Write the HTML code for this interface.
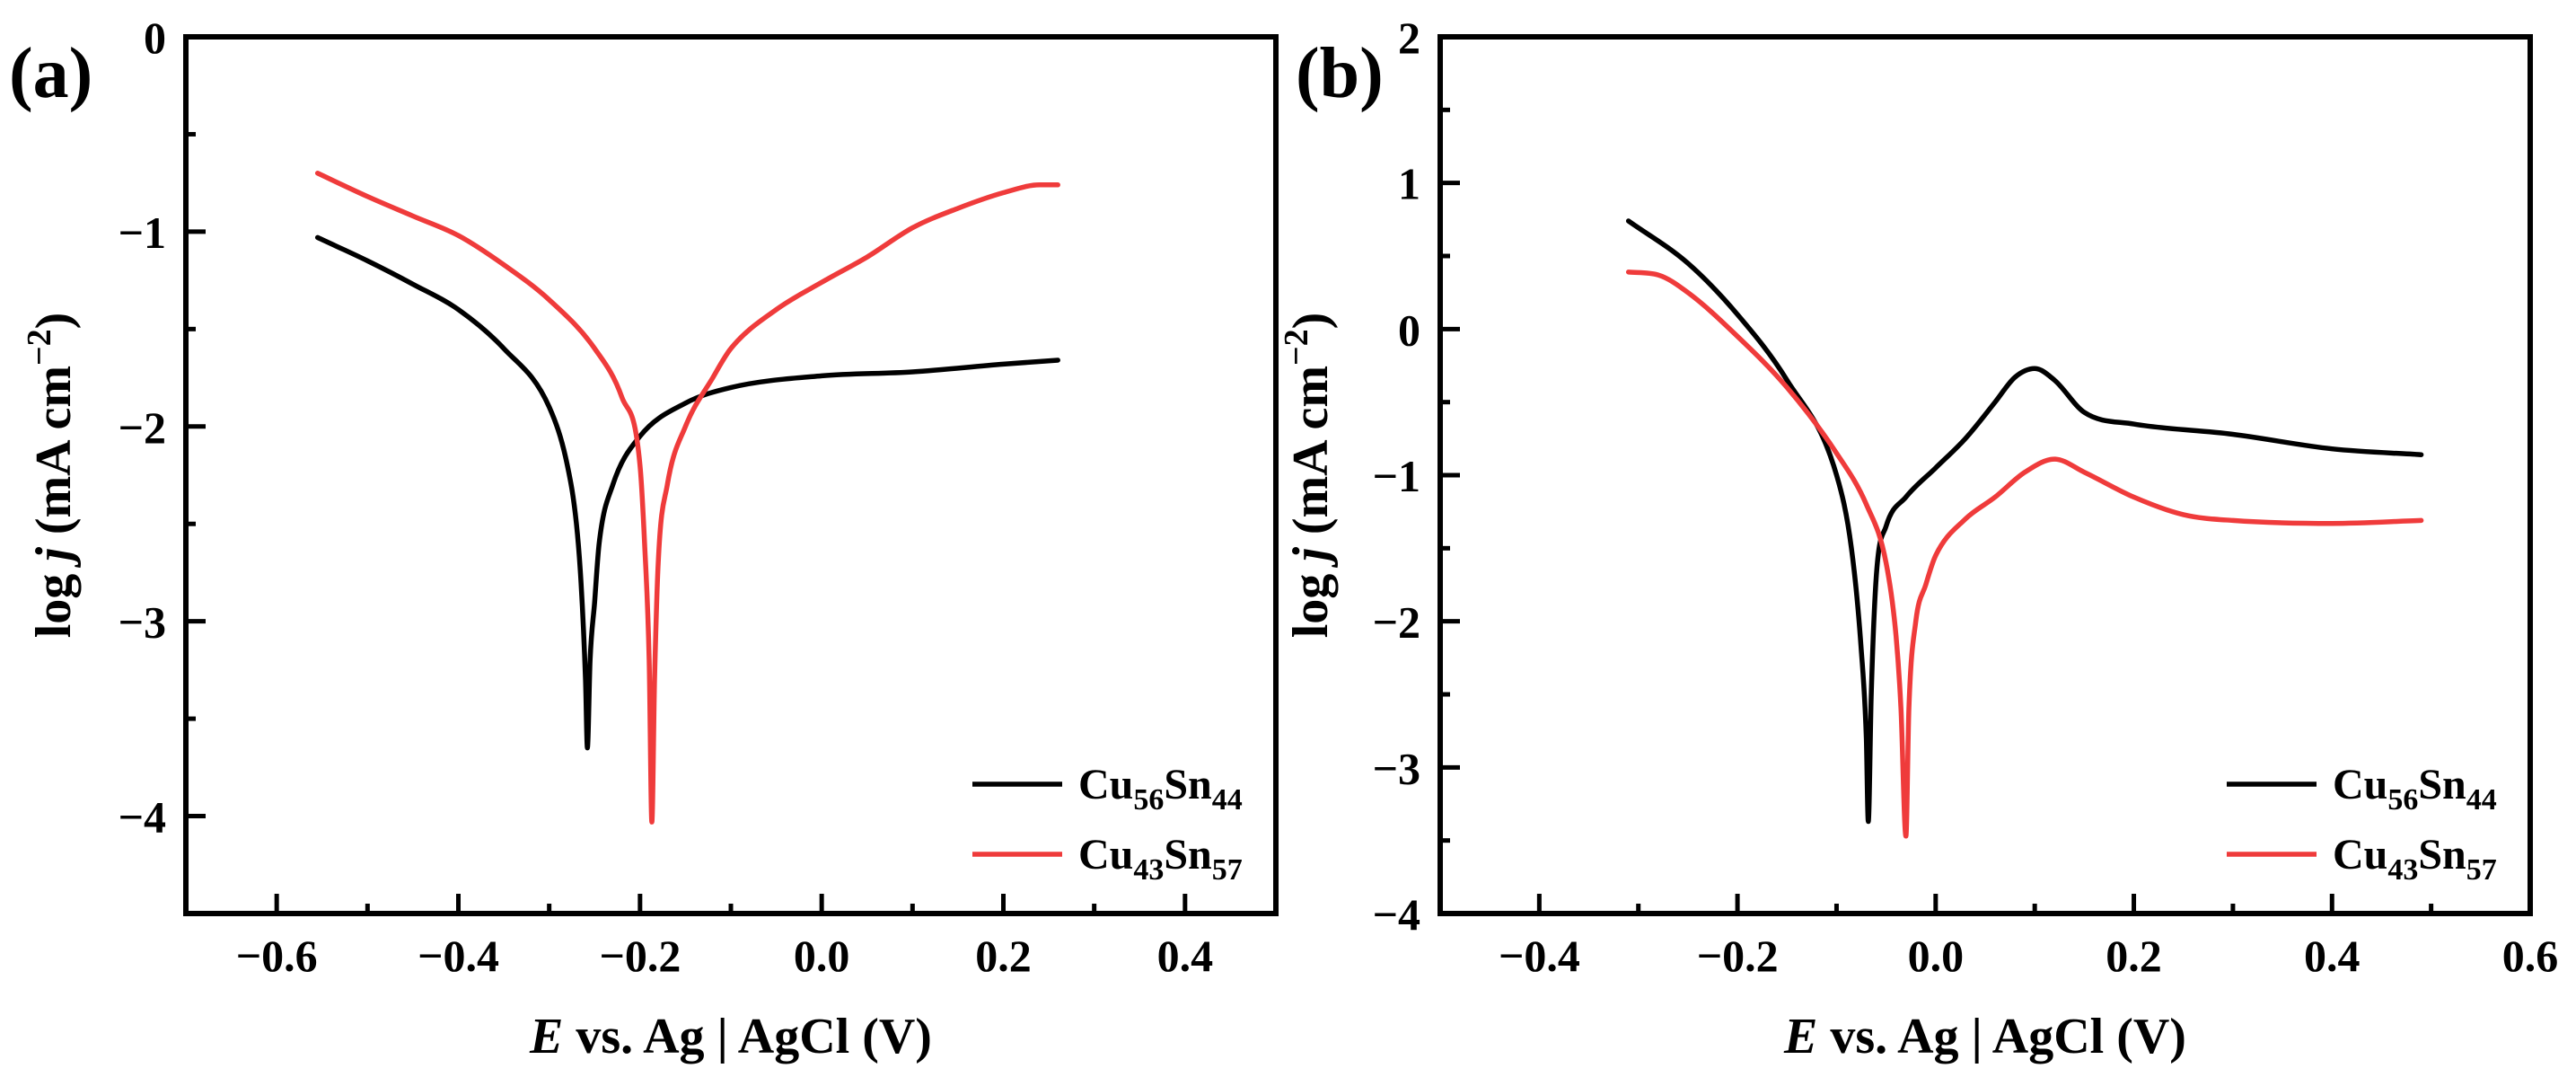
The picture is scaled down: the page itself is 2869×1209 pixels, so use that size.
<!DOCTYPE html>
<html><head><meta charset="utf-8">
<style>
html,body{margin:0;padding:0;background:#fff;}
svg{display:block;font-family:"Liberation Serif",serif;}
</style></head>
<body>
<svg id="fig" width="2869" height="1209" viewBox="0 0 2869 1209" xmlns="http://www.w3.org/2000/svg"></svg>
<script>
// Panel (a) data
const aBlackE = [-0.555,-0.5,-0.45,-0.4,-0.35,-0.3,-0.28,-0.27,-0.265,-0.26,-0.258,-0.255,-0.25,-0.245,-0.23,-0.2,-0.15,-0.1,0,0.1,0.2,0.26];
const aBlackJ = [-1.03,-1.15,-1.27,-1.4,-1.6,-1.9,-2.2,-2.5,-2.8,-3.3,-3.65,-3.2,-2.9,-2.6,-2.3,-2.05,-1.88,-1.8,-1.74,-1.72,-1.68,-1.66];
const aRedE = [-0.555,-0.5,-0.45,-0.4,-0.35,-0.3,-0.25,-0.22,-0.2,-0.195,-0.19,-0.187,-0.184,-0.18,-0.17,-0.15,-0.12,-0.1,-0.05,0,0.05,0.1,0.15,0.2,0.24,0.26];
const aRedJ = [-0.7,-0.82,-0.92,-1.02,-1.17,-1.35,-1.6,-1.85,-2.2,-2.6,-3.2,-4.03,-3.3,-2.7,-2.3,-2.0,-1.75,-1.6,-1.4,-1.26,-1.13,-0.98,-0.88,-0.8,-0.76,-0.76];
// Panel (b) data
const bBlackE = [-0.31,-0.25,-0.2,-0.15,-0.1,-0.085,-0.075,-0.07,-0.068,-0.065,-0.06,-0.05,-0.03,0,0.03,0.06,0.08,0.1,0.12,0.15,0.2,0.3,0.4,0.49];
const bBlackJ = [0.74,0.45,0.1,-0.35,-1.0,-1.5,-2.2,-2.8,-3.37,-2.5,-1.7,-1.35,-1.15,-0.95,-0.75,-0.5,-0.33,-0.27,-0.35,-0.57,-0.65,-0.72,-0.82,-0.86];
const bRedE = [-0.31,-0.28,-0.25,-0.2,-0.15,-0.1,-0.07,-0.05,-0.04,-0.035,-0.03,-0.027,-0.02,-0.01,0,0.03,0.06,0.09,0.12,0.15,0.2,0.25,0.3,0.4,0.49];
const bRedJ = [0.39,0.37,0.25,-0.05,-0.4,-0.85,-1.2,-1.6,-2.1,-2.6,-3.47,-2.6,-2.0,-1.75,-1.55,-1.3,-1.15,-0.98,-0.89,-0.98,-1.15,-1.27,-1.31,-1.33,-1.31];
const aXTicks = [-0.6,-0.4,-0.2,0.0,0.2,0.4];
const aXLabels = ["\u22120.6","\u22120.4","\u22120.2","0.0","0.2","0.4"];
const aYTicks = [0,-1,-2,-3,-4];
const aYLabels = ["0","\u22121","\u22122","\u22123","\u22124"];
const bXTicks = [-0.4,-0.2,0.0,0.2,0.4,0.6];
const bXLabels = ["\u22120.4","\u22120.2","0.0","0.2","0.4","0.6"];
const bYTicks = [2,1,0,-1,-2,-3,-4];
const bYLabels = ["2","1","0","\u22121","\u22122","\u22123","\u22124"];

const NS="http://www.w3.org/2000/svg";
const svg=document.getElementById('fig');
function mk(tag,attrs,parent){const e=document.createElementNS(NS,tag);for(const k in attrs)e.setAttribute(k,attrs[k]);(parent||svg).appendChild(e);return e;}

// monotone cubic (Fritsch-Carlson) path through pixel points
function monoPath(xs,ys){
  const n=xs.length;const d=[],m=[];
  for(let i=0;i<n-1;i++)d.push((ys[i+1]-ys[i])/(xs[i+1]-xs[i]));
  m[0]=d[0];m[n-1]=d[n-2];
  for(let i=1;i<n-1;i++){m[i]=(d[i-1]*d[i]<=0)?0:(d[i-1]+d[i])/2;}
  for(let i=0;i<n-1;i++){
    if(d[i]===0){m[i]=0;m[i+1]=0;continue;}
    const a=m[i]/d[i],b=m[i+1]/d[i],s=a*a+b*b;
    if(s>9){const t=3/Math.sqrt(s);m[i]=t*a*d[i];m[i+1]=t*b*d[i];}
  }
  let p='M'+xs[0].toFixed(1)+' '+ys[0].toFixed(1);
  for(let i=0;i<n-1;i++){
    const h=(xs[i+1]-xs[i])/3;
    p+=' C'+(xs[i]+h).toFixed(1)+' '+(ys[i]+m[i]*h).toFixed(1)+' '+(xs[i+1]-h).toFixed(1)+' '+(ys[i+1]-m[i+1]*h).toFixed(1)+' '+xs[i+1].toFixed(1)+' '+ys[i+1].toFixed(1);
  }
  return p;
}

function panel(cfg){
  const g=mk('g',{});
  
  
  const sx=v=>cfg.L+(v-cfg.x0)/(cfg.x1-cfg.x0)*(cfg.R-cfg.L);
  const sy=v=>cfg.T+(cfg.y1-v)/(cfg.y1-cfg.y0)*(cfg.B-cfg.T);
  for(let v=cfg.x0;v<=cfg.x1+1e-9;v+=0.1){
    const r=Math.round(v*10);
    if(Math.abs(v-cfg.x0)<1e-9||Math.abs(v-cfg.x1)<1e-9) continue;
    const major=(r%2===0);
    const t=mk('line',{x1:sx(v),x2:sx(v),y1:cfg.B,y2:cfg.B-(major?22:11),stroke:'#000','stroke-width':5},g);
    
    
  }
  for(let v=cfg.y0;v<=cfg.y1+1e-9;v+=0.5){
    if(Math.abs(v-cfg.y0)<1e-9||Math.abs(v-cfg.y1)<1e-9) continue;
    const major=Math.abs(v-Math.round(v))<1e-9;
    const t=mk('line',{x1:cfg.L,x2:cfg.L+(major?22:11),y1:sy(v),y2:sy(v),stroke:'#000','stroke-width':5},g);
    
    
  }
  cfg.xt.forEach((v,i)=>{
    const t=mk('text',{x:sx(v),y:1081,'font-size':50,'font-weight':'bold','text-anchor':'middle'},g);
    t.textContent=cfg.xl[i];
    
    
  });
  cfg.yt.forEach((v,i)=>{
    const t=mk('text',{x:cfg.L-22,y:sy(v)+18,'font-size':50,'font-weight':'bold','text-anchor':'end'},g);
    t.textContent=cfg.yl[i];
    
    
  });
  cfg.series.forEach(s=>{
    const d=monoPath(s.E.map(sx),s.J.map(sy));
    const p=mk('path',{d:d,fill:'none',stroke:s.c,'stroke-width':5.5,'stroke-linejoin':'round','stroke-linecap':'round'},g);
    
    
  });
  const box=mk('rect',{x:cfg.L,y:cfg.T,width:cfg.R-cfg.L,height:cfg.B-cfg.T,fill:'none',stroke:'#000','stroke-width':6},g);
  
  
  const xt=mk('text',{x:(cfg.L+cfg.R)/2,y:1172,'font-size':56,'font-weight':'bold','text-anchor':'middle'},g);
  xt.innerHTML='<tspan font-style="italic">E</tspan> vs. Ag | AgCl (V)';
  
  
  const yt=mk('text',{x:0,y:0,'font-size':56,'font-weight':'bold','text-anchor':'middle',transform:`translate(${cfg.ytx},${(cfg.T+cfg.B)/2}) rotate(-90)`},g);
  yt.innerHTML='log <tspan font-style="italic">j</tspan> (mA cm<tspan dy="-22" font-size="38">\u22122</tspan><tspan dy="22">)</tspan>';
  
  
  const pl=mk('text',{x:cfg.plx,y:108,'font-size':80,'font-weight':'bold'},g);
  pl.textContent=cfg.label;
  
  
  cfg.series.forEach((s,i)=>{
    const y=cfg.legY+i*78;
    const l=mk('line',{x1:cfg.legX,x2:cfg.legX+100,y1:y,y2:y,stroke:s.c,'stroke-width':5.5},g);
    
    
    const t=mk('text',{x:cfg.legX+118,y:y+16,'font-size':48,'font-weight':'bold'},g);
    t.innerHTML=s.lab;
    
    
  });
}
const lab1='Cu<tspan dy="12" font-size="34">56</tspan><tspan dy="-12">Sn</tspan><tspan dy="12" font-size="34">44</tspan>';
const lab2='Cu<tspan dy="12" font-size="34">43</tspan><tspan dy="-12">Sn</tspan><tspan dy="12" font-size="34">57</tspan>';
panel({name:'panel-a',L:207,R:1421,T:41,B:1017,x0:-0.7,x1:0.5,y0:-4.5,y1:0,
  xt:aXTicks,xl:aXLabels,yt:aYTicks,yl:aYLabels,ytx:78,plx:10,label:'(a)',legX:1083,legY:873,
  series:[{E:aBlackE,J:aBlackJ,c:'#000',n:'series-cu56sn44',lab:lab1},{E:aRedE,J:aRedJ,c:'#ef3b3b',n:'series-cu43sn57',lab:lab2}]});
panel({name:'panel-b',L:1604,R:2818,T:41,B:1017,x0:-0.5,x1:0.6,y0:-4,y1:2,
  xt:bXTicks,xl:bXLabels,yt:bYTicks,yl:bYLabels,ytx:1478,plx:1443,label:'(b)',legX:2480,legY:873,
  series:[{E:bBlackE,J:bBlackJ,c:'#000',n:'series-cu56sn44',lab:lab1},{E:bRedE,J:bRedJ,c:'#ef3b3b',n:'series-cu43sn57',lab:lab2}]});
</script>
</body></html>
